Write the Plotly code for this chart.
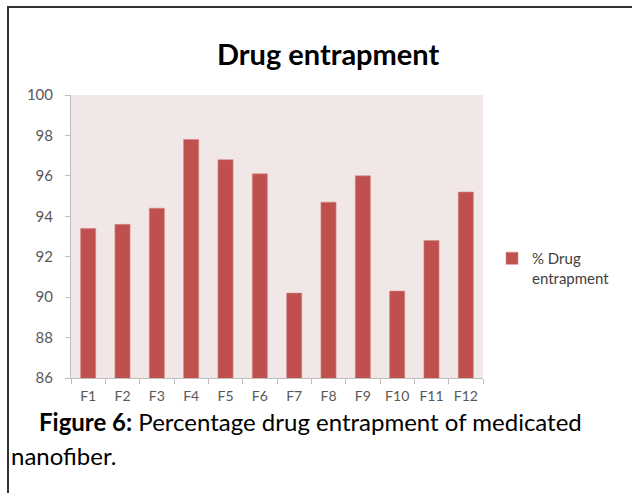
import plotly.graph_objects as go

# Formulation codes and their % drug entrapment
formulations = ["F1", "F2", "F3", "F4", "F5", "F6", "F7", "F8", "F9", "F10", "F11", "F12"]
entrapment = [93.4, 93.6, 94.4, 97.8, 96.8, 96.1, 90.2, 94.7, 96.0, 90.3, 92.8, 95.2]
y_ticks = [86, 88, 90, 92, 94, 96, 98, 100]

W, H = 632, 493
L, R, T, B = 71, 483, 95, 378  # plot area edges in pixels

def px(x):
    return (x - L) / (R - L)

def py(y):
    return (B - y) / (B - T)

FONT = "Lato"
BAR = "#C0504D"
AXIS = "#BFBFBF"

fig = go.Figure(
    go.Bar(
        x=formulations,
        y=entrapment,
        name="% Drug<br>entrapment",
        marker=dict(color=BAR, line=dict(color="#D08A88", width=0.6)),
    )
)

fig.update_layout(
    width=W,
    height=H,
    margin=dict(l=L, r=W - R, t=T, b=H - B, pad=0),
    paper_bgcolor="white",
    plot_bgcolor="#F2E7E7",
    bargap=0.56,
    showlegend=True,
    legend=dict(
        x=px(492), y=py(268), xanchor="left", yanchor="middle",
        font=dict(family=FONT, size=15, color="#404040"),
        bgcolor="rgba(0,0,0,0)",
        itemwidth=30,
        valign="top",
    ),
    font=dict(family=FONT, color="#595959"),
)

fig.update_xaxes(
    type="category",
    showline=True, linecolor=AXIS, linewidth=1,
    ticks="outside", tickson="boundaries", ticklen=5, tickcolor=AXIS,
    tickangle=0, ticklabelstandoff=5,
    tickfont=dict(family=FONT, size=14, color="#595959"),
    showgrid=False, zeroline=False,
)
fig.update_yaxes(
    range=[86, 100],
    tickvals=y_ticks,
    showline=True, linecolor=AXIS, linewidth=1,
    ticks="outside", ticklen=5, tickcolor=AXIS,
    ticklabelstandoff=9,
    tickfont=dict(family=FONT, size=15, color="#595959"),
    showgrid=False, zeroline=False,
)

# Chart title
fig.add_annotation(
    text="<b>Drug entrapment</b>", xref="paper", yref="paper",
    x=px(328), y=py(53), xanchor="center", yanchor="middle",
    showarrow=False, font=dict(family=FONT, size=29, color="#000000"),
)

# Figure caption below the chart
fig.add_annotation(
    text="<b>Figure 6:</b> Percentage drug entrapment of medicated",
    xref="paper", yref="paper", x=px(37), y=py(421),
    xanchor="left", yanchor="middle", showarrow=False,
    font=dict(family=FONT, size=24, color="#000000"),
)
fig.add_annotation(
    text="nanofiber.", xref="paper", yref="paper", x=px(9), y=py(455),
    xanchor="left", yanchor="middle", showarrow=False,
    font=dict(family=FONT, size=24, color="#000000"),
)

# Frame around the figure (top and left edges)
frame = dict(color="#333333", width=2)
fig.add_shape(type="line", xref="paper", yref="paper",
              x0=px(7), x1=px(640), y0=py(7), y1=py(7), line=frame)
fig.add_shape(type="line", xref="paper", yref="paper",
              x0=px(8), x1=px(8), y0=py(6), y1=py(500), line=frame)

fig.write_html("out.html")
